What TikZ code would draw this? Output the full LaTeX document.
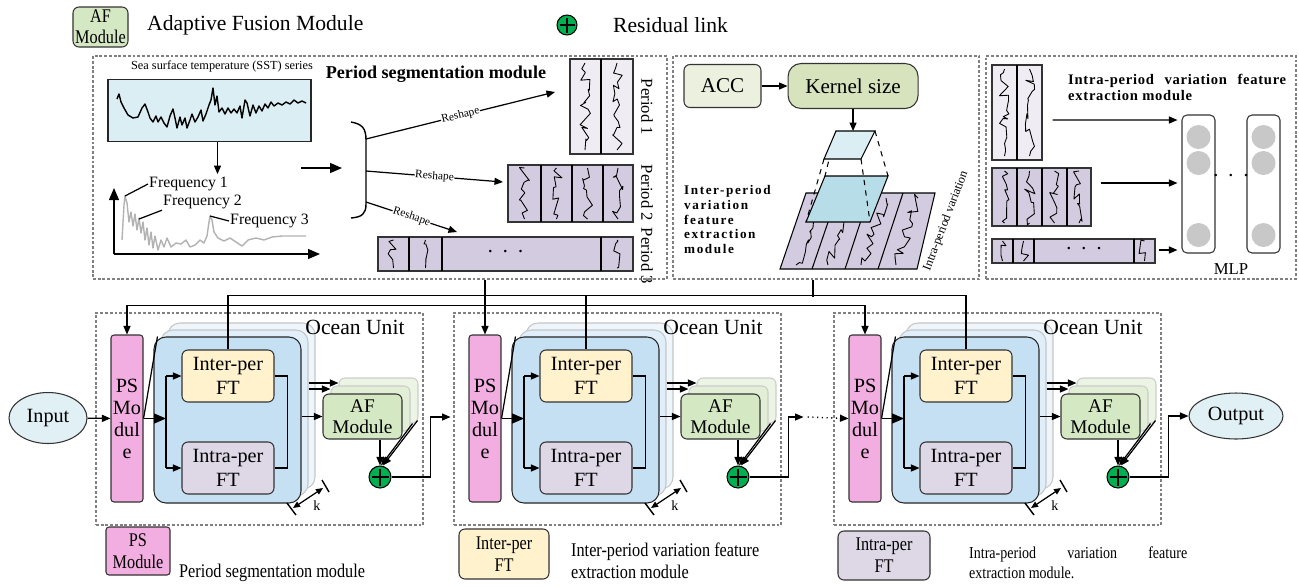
\documentclass[tikz,border=0pt]{standalone}
\usepackage{fontspec}
\setmainfont{Liberation Serif}
\newfontfamily\narrowfont[FakeStretch=0.84]{Liberation Serif}
\newfontfamily\spacedfont[LetterSpace=12]{Liberation Serif}
\newfontfamily\loosefont[LetterSpace=5]{Liberation Serif}
\usetikzlibrary{arrows.meta,positioning,calc,shapes.geometric,decorations.pathmorphing}
\definecolor{ocPink}{HTML}{F2AEE0}
\definecolor{ocYellow}{HTML}{FFF2CC}
\definecolor{ocLav}{HTML}{DDD7E6}
\definecolor{ocBlue}{HTML}{C5E0F3}
\definecolor{ocGreen}{HTML}{D5E8C4}
\definecolor{ocRes}{HTML}{00B050}
\definecolor{ocSst}{HTML}{DAEEF3}
\definecolor{ocTerm}{HTML}{E1F0F4}
\definecolor{ocPerLight}{HTML}{EFEDF3}
\definecolor{ocPer}{HTML}{D3CBE0}
\definecolor{ocAcc}{HTML}{EBF1DE}
\definecolor{ocKernel}{HTML}{D6E3BC}
\definecolor{ocCyanLight}{HTML}{DBEEF3}
\definecolor{ocCyan}{HTML}{B7DDE8}
\definecolor{ocGray}{HTML}{C8C8C8}
\newcommand{\wideDots}{\textperiodcentered\hspace{1.6mm}\textperiodcentered\hspace{1.6mm}\textperiodcentered}

\begin{document}
\begin{tikzpicture}[x=0.2mm, y=-0.2mm,
    conn/.style={line width=0.7pt},
    arr/.style={conn, -{Triangle[length=1.7mm, width=1.4mm]}},
    bigarr/.style={conn, -{Triangle[length=2.4mm, width=2mm]}},
    panel/.style={draw=gray, line width=0.8pt, dash pattern=on 1.6pt off 1.1pt, inner sep=0pt},
    box/.style={draw=black!80, line width=0.6pt, rounded corners=1.2mm, align=center,
      inner sep=0.5pt, font=\fontsize{11.5}{13.3}\selectfont},
    psbox/.style={box, fill=ocPink, rounded corners=0.6mm, minimum width=6.4mm,
      minimum height=33.4mm, font=\fontsize{11.5}{12.5}\selectfont},
    interbox/.style={box, fill=ocYellow, minimum width=18.4mm, minimum height=10.4mm},
    intrabox/.style={box, fill=ocLav, minimum width=18.4mm, minimum height=10.4mm},
    bluebox/.style={draw=black!85, line width=0.6pt, rounded corners=2.4mm, fill=ocBlue,
      minimum width=29.4mm, minimum height=33.2mm},
    bluebk/.style={bluebox, draw=gray!45},
    afbox/.style={box, fill=ocGreen, minimum width=15.8mm, minimum height=9mm,
      font=\fontsize{11}{12}\selectfont},
    afbk/.style={afbox, draw=gray!40},
    resnode/.style={circle, draw=black, line width=0.6pt, fill=ocRes, minimum size=4.4mm,
      inner sep=0pt, path picture={\draw[line width=0.6pt]
        ([yshift=-0.5mm]path picture bounding box.north) -- ([yshift=0.5mm]path picture bounding box.south)
        ([xshift=0.5mm]path picture bounding box.west) -- ([xshift=-0.5mm]path picture bounding box.east);}},
    term/.style={ellipse, draw=black!80, line width=0.6pt, fill=ocTerm, inner sep=0pt,
      font=\fontsize{11.5}{13}\selectfont},
    seg/.style={draw=black!80, line width=0.6pt, inner sep=0pt},
    sig/.style={decorate, decoration={random steps, segment length=0.9mm, amplitude=1.1mm},
      line width=0.5pt, line join=round},
    legtext/.style={font=\fontsize{12.3}{14}\selectfont},
    narrowtext/.style={font=\narrowfont\fontsize{11}{12.5}\selectfont},
    freq/.style={font=\fontsize{9}{10}\selectfont, inner sep=0.5pt},
    reshape/.style={font=\fontsize{6.5}{7}\selectfont, sloped, fill=white, inner sep=0.3pt},
    neuron/.style={circle, fill=ocGray, minimum size=4.8mm, inner sep=0pt}]

  \useasboundingbox (0,0) rectangle (1299,586);
  \pgfmathsetseed{42}

  % legend on top
  \node[afbox, minimum width=11mm, minimum height=8mm, font=\narrowfont\fontsize{11}{12}\selectfont] (aflegend) at (100.5,27) {AF\\Module};
  \node[legtext, anchor=west] (aftext) at (141,25) {Adaptive Fusion Module};
  \node[resnode, minimum size=4mm] (reslegend) at (567,25) {};
  \node[legtext, anchor=west] (restext) at (607,25) {Residual link};

  % the three panels
  \node[panel, minimum width=114.8mm, minimum height=44.6mm] (p1) at (380,167.5) {};
  \node[panel, minimum width=61.2mm, minimum height=44.6mm] (p2) at (826,167.5) {};
  \node[panel, minimum width=62mm, minimum height=44.6mm] (p3) at (1141,167.5) {};

  % period segmentation module
  \node[font=\fontsize{7}{8}\selectfont] (ssttext) at (222,66) {Sea surface temperature (SST) series};
  \node[font=\fontsize{10.3}{12}\selectfont\bfseries] (pstitle) at (436,74) {Period segmentation module};
  \node[draw=black!85, line width=0.7pt, fill=ocSst, minimum width=40.6mm, minimum height=12.4mm] (sst) at (209.5,110.5) {};
  \draw[line width=0.8pt, line join=round] plot coordinates {(117,99) (119,94) (121,102) (124,108)
    (128,115) (133,118) (138,117) (142,108) (145,104) (148,112) (150,118) (153,122) (156,116)
    (158,122) (161,117) (164,123) (167,127) (170,116) (173,109) (175,118) (177,128) (180,117)
    (182,125) (185,118) (187,128) (190,120) (192,114) (195,122) (198,117) (201,110) (203,121)
    (206,114) (209,105) (211,100) (213,88) (215,105) (217,96) (219,112) (222,108) (225,114)
    (228,108) (231,113) (234,109) (237,113) (240,106) (242,118) (245,100) (247,103) (250,116)
    (253,105) (256,113) (259,106) (262,111) (265,104) (268,108) (271,102) (274,106) (278,103)
    (282,105) (286,102) (290,104) (294,100) (298,103) (302,101) (306,103)};
  \draw[arr] ($(sst.south)+(8,0)$) -- ++(0,32);
  \coordinate (origin) at (114,254);
  \draw[bigarr] (origin) -- ++(0,-66);
  \draw[bigarr] (origin) -- ++(206,0);
  \draw[gray!60, line width=0.8pt, line join=round] plot coordinates {(122,240) (124,205) (125,196)
    (127,203) (129,222) (131,212) (133,226) (135,214) (137,230) (139,218) (141,233) (143,222)
    (145,240) (147,228) (149,245) (151,232) (153,248) (155,236) (158,250) (161,240) (164,247)
    (167,238) (171,247) (176,243) (181,244) (186,240) (190,247) (195,245) (200,240) (204,243)
    (207,236) (209,222) (210,216) (212,220) (214,232) (218,238) (224,241) (230,238) (236,242)
    (242,246) (248,240) (256,238) (264,240) (272,237) (282,236) (294,236) (306,236)};
  \node[freq, anchor=west] (f1) at (148,184) {Frequency 1};
  \node[freq, anchor=west] (f2) at (162,202) {Frequency 2};
  \node[freq, anchor=west] (f3) at (229,221) {Frequency 3};
  \draw[conn] (125,196) -- (f1.west);
  \draw[conn] (139,219) -- (f2.south west);
  \draw[conn] (210,216) -- (f3.west);
  \coordinate (specout) at (301,168);
  \coordinate (brin) at (342,168);
  \draw[bigarr] (specout) -- (brin);
  \draw[line width=0.8pt] (351,122) .. controls (362,124) and (366,128) .. (366,140) -- (366,204)
    .. controls (366,214) and (362,217) .. (351,218);
  \coordinate (br1) at (366,139);
  \coordinate (br2) at (366,171);
  \coordinate (br3) at (366,202);
  \coordinate (r1) at (555,92);
  \coordinate (r2) at (503,182);
  \coordinate (r3) at (457,232);
  \draw[arr] (br1) -- node[reshape] {Reshape} (r1);
  \draw[arr] (br2) -- node[reshape] {Reshape} (r2);
  \draw[arr] (br3) -- node[reshape] {Reshape} (r3);

  \node[seg, fill=ocPerLight, minimum width=12.6mm, minimum height=19mm] (seg1) at (601.5,106.5) {};
  \draw[conn] (601,59) -- (601,154);
  \foreach \x in {585,617} \draw[sig] (\x,63) -- (\x,150);
  \node[seg, fill=ocPer, minimum width=25mm, minimum height=11.4mm] (seg2) at (570.5,193.5) {};
  \foreach \x in {541,572,603} \draw[conn] (\x,165) -- (\x,222);
  \foreach \x in {524.5,556.5,587.5,618} \draw[sig] (\x,168) -- (\x,219);
  \node[seg, fill=ocPer, minimum width=51mm, minimum height=6.8mm, font=\fontsize{12}{12}\selectfont] (seg3) at (505.5,254) {\wideDots};
  \foreach \x in {409,442,601} \draw[conn] (\x,237) -- (\x,271);
  \foreach \x in {393.5,425.5,617} \draw[sig] (\x,240) -- (\x,268);
  \node[font=\fontsize{9.5}{10}\selectfont, rotate=-90] (per1) at (647,107) {Period 1};
  \node[font=\fontsize{9.5}{10}\selectfont, rotate=-90] (per2) at (647,193) {Period 2};
  \node[font=\fontsize{9.5}{10}\selectfont, rotate=-90] (per3) at (647,256) {Period 3};

  % inter-period variation feature extraction module
  \node[box, fill=ocAcc, minimum width=15.4mm, minimum height=8.6mm, font=\fontsize{12}{14}\selectfont] (acc) at (722.5,86) {ACC};
  \node[box, fill=ocKernel, rounded corners=2.6mm, minimum width=26mm, minimum height=9mm,
    font=\fontsize{12}{14}\selectfont, right=5.2mm of acc] (kernel) {Kernel size};
  \draw[arr] (acc) -- (kernel);
  \draw[arr] (kernel.south) -- ++(0,22);
  \draw[line width=0.6pt, fill=ocPer] (806,193) -- (935,193) -- (917,269) -- (780,269) -- cycle;
  \draw[line width=0.6pt] (812,269) -- (838,193) (845,269) -- (870,193) (878,269) -- (903,193);
  \draw[sig] (796,265) -- (821,198);
  \draw[sig] (828,265) -- (853,198);
  \draw[sig] (861,265) -- (886,198);
  \draw[sig] (896,265) -- (918,198);
  \draw[line width=0.6pt, fill=ocCyan] (825,176) -- (888,176) -- (870,222) -- (806,222) -- cycle;
  \draw[line width=0.6pt, dashed] (836,131) -- (825,176) (875,131) -- (888,176)
    (824,159) -- (806,222) (861,159) -- (870,222);
  \draw[line width=0.6pt, fill=ocCyanLight] (836,131) -- (875,131) -- (861,159) -- (824,159) -- cycle;
  \node[font=\fontsize{7}{8}\selectfont, rotate=69] (intravar) at (946,221) {Intra-period variation};
  \node[font=\spacedfont\bfseries\fontsize{7.5}{8.5}\selectfont, align=left, anchor=west] (intertitle) at (678,219.5)
    {Inter-period\\variation\\feature\\extraction\\module};

  % intra-period variation feature extraction module
  \node[font=\loosefont\bfseries\fontsize{8.3}{9.1}\selectfont, align=left, anchor=west] (intratitle) at (1062,87)
    {\makebox[43.6mm][s]{Intra-period variation feature}\\extraction module};
  \node[seg, fill=ocPerLight, minimum width=10mm, minimum height=19mm] (mper1) at (1017,112.5) {};
  \draw[conn] (1017,65) -- (1017,160);
  \foreach \x in {1004.5,1029.5} \draw[sig] (\x,69) -- (\x,156);
  \node[seg, fill=ocPer, minimum width=19.8mm, minimum height=11.6mm] (mper2) at (1041.5,197) {};
  \foreach \x in {1017,1042,1067} \draw[conn] (\x,168) -- (\x,226);
  \foreach \x in {1004.5,1029.5,1054.5,1079} \draw[sig] (\x,171) -- (\x,223);
  \node[seg, fill=ocPer, minimum width=32.6mm, minimum height=4.8mm] (mper3) at (1073.5,251) {};
  \node[font=\fontsize{12}{12}\selectfont] (mperdots) at (1084,251) {\wideDots};
  \foreach \x in {1013,1034,1134} \draw[conn] (\x,239) -- (\x,263);
  \foreach \x in {1002.5,1023.5,1144.5} \draw[sig] (\x,241) -- (\x,261);
  \node[draw=black!80, line width=0.6pt, rounded corners=1mm, minimum width=6.6mm, minimum height=27.6mm] (mlp1) at (1198.5,184) {};
  \node[draw=black!80, line width=0.6pt, rounded corners=1mm, minimum width=6.6mm, minimum height=27.6mm] (mlp2) at (1263.5,184) {};
  \foreach \x in {1198.5,1263.5} \foreach \y in {137,163,235} \node[neuron] at (\x,\y) {};
  \node[font=\fontsize{12}{12}\selectfont] (mlpdots) at (1231,178) {\wideDots};
  \node[font=\fontsize{9.5}{11}\selectfont] (mlptext) at (1231,269) {MLP};
  \draw[arr] ($(mper1.east)+(10,7.5)$) -- ($(mlp1.west)+(-4,-64)$);
  \draw[arr] ($(mper2.east)+(9,-14)$) -- ($(mlp1.west)+(-4,-1)$);
  \draw[arr] ($(mper3.east)+(3,-1)$) -- ($(mlp1.west)+(-4,66)$);

  % ocean units
  \node[term, minimum width=15.6mm, minimum height=10.2mm] (input) at (48,418) {Input};
  \node[term, minimum width=18.8mm, minimum height=9.2mm] (output) at (1236,416) {Output};
  \foreach \u/\dx in {1/0,2/358,3/738}{
    \begin{scope}[xshift=\dx*0.2mm]
      \node[panel, minimum width=65.4mm, minimum height=42.4mm] (unit\u) at (259.5,419) {};
      \node[bluebk, fill=ocBlue!30] (bl3\u) at (241.5,406) {};
      \node[bluebk, fill=ocBlue!55] (bl2\u) at (234.5,413) {};
      \node[legtext] (title\u) at (355,327) {Ocean Unit};
      \node[psbox] (ps\u) at (127,418.5) {PS\\Mo\\dul\\e};
      \node[bluebox] (blue\u) at (227.5,420) {};
      \node[interbox] (inter\u) at (228,376) {Inter-per\\FT};
      \node[intrabox] (intra\u) at (228,468) {Intra-per\\FT};
      \node[afbk, fill=ocGreen!45] (afl3\u) at (378.5,400.5) {};
      \node[afbk, fill=ocGreen!70] (afl2\u) at (370.5,408.5) {};
      \node[afbox] (af\u) at (362.5,416.5) {AF\\Module};
      \node[resnode] (res\u) at (380,477) {};
      \coordinate (sp\u) at (166,418.5);
      \draw[conn] (ps\u.east) -- ($(blue\u.north west)+(4,0)$);
      \draw[bigarr] (ps\u.east) -- (sp\u);
      \draw[conn] (sp\u |- inter\u.west) -- (sp\u |- intra\u.west);
      \draw[arr] (sp\u |- inter\u.west) -- (inter\u.west);
      \draw[arr] (sp\u |- intra\u.west) -- (intra\u.west);
      \draw[conn] (inter\u.east) -- ++(13,0) |- (intra\u.east);
      \draw[arr] (blue\u.east |- af\u.west) -- (af\u.west);
      \draw[arr] ($(bl2\u.east)+(0,-24)$) -- ($(afl2\u.west)+(0,-19.5)$);
      \draw[arr] ($(bl3\u.east)+(-7,-23)$) -- ($(afl3\u.west)+(0,-17.5)$);
      \draw[arr] (af\u.south -| res\u.north) -- (res\u.north);
      \draw[arr] ($(afl3\u.south east)+(-1,-3)$) -- ($(res\u.north)+(3,0)$);
      \draw[arr] ($(afl2\u.south east)+(2,-8)$) -- ($(res\u.north)+(1,0)$);
      \draw[conn, {Triangle[length=1.4mm, width=1.2mm]}-{Triangle[length=1.4mm, width=1.2mm]}] (293,508) -- (323,488);
      \draw[line width=0.8pt] (287,503) -- (296,515) (322,480) -- (329,492);
      \node[font=\fontsize{8}{9}\selectfont] (k\u) at (317,506) {k};
    \end{scope}
  }
  \draw[arr] (input) -- (ps1);
  \draw[arr] (res1.east) -- ++(39,0) -- ++(0,-60) -- ++(20,0);
  \draw[arr] (res2.east) -- ++(39,0) -- ++(0,-60) -- ++(15,0) coordinate (dotstart);
  \draw[arr, dotted, line width=0.8pt] ($(dotstart)+(4,0)$) -- (ps3.west);
  \draw[arr] (res3.east) -- ++(39,0) |- (output.west);

  % links from the panels down to the units
  \draw[arr] (p1.south -| ps2.north) -- (ps2.north);
  \draw[conn] ([yshift=5.8mm]ps1.north) -- ([yshift=5.8mm]ps3.north);
  \draw[arr] ([yshift=5.8mm]ps1.north) -- (ps1.north);
  \draw[arr] ([yshift=5.8mm]ps3.north) -- (ps3.north);
  \draw[conn] ($(p2.south)+(-13,0)$) -- ++(0,17);
  \draw[conn] ([yshift=10.8mm]inter1.north) -- ([yshift=10.8mm]inter3.north);
  \foreach \u in {1,2,3} \draw[conn] ([yshift=10.8mm]inter\u.north) -- (inter\u.north);

  % legend at the bottom
  \node[psbox, minimum width=12.8mm, minimum height=9.6mm, font=\narrowfont\fontsize{11}{12.5}\selectfont] (pslegend) at (138,551) {PS\\Module};
  \node[narrowtext, anchor=west] (pstext) at (173,573) {Period segmentation module};
  \node[interbox, minimum width=18mm, minimum height=10mm, font=\narrowfont\fontsize{11}{12.5}\selectfont] (interlegend) at (504,554) {Inter-per\\FT};
  \node[narrowtext, anchor=west, align=left] (intertext) at (565,561) {Inter-period variation feature\\extraction module};
  \node[intrabox, minimum width=18.4mm, minimum height=9.8mm, font=\narrowfont\fontsize{11}{12.5}\selectfont] (intralegend) at (884,555.5) {Intra-per\\FT};
  \node[font=\narrowfont\fontsize{9.5}{11.4}\selectfont, anchor=west, align=left] (intratext) at (963,563)
    {\makebox[43.6mm][s]{Intra-period variation feature}\\extraction module.};
\end{tikzpicture}
\end{document}
